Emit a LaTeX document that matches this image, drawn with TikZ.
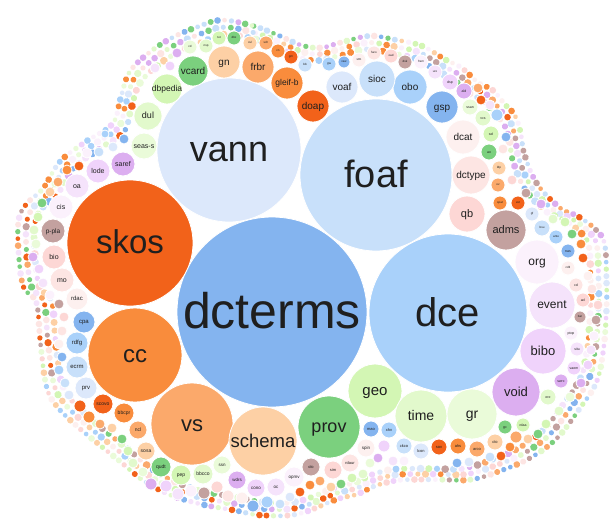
\documentclass[tikz,border=0pt]{standalone}
\usepackage{fontspec}
\setmainfont{Liberation Sans}
\usetikzlibrary{decorations.markings}
% five hues, four shades each
\definecolor{pal0}{HTML}{84B4EF}
\definecolor{pal1}{HTML}{A9D1FA}
\definecolor{pal2}{HTML}{C8E0FA}
\definecolor{pal3}{HTML}{DCE8FB}
\definecolor{pal4}{HTML}{F2621A}
\definecolor{pal5}{HTML}{F98C3C}
\definecolor{pal6}{HTML}{FBA96B}
\definecolor{pal7}{HTML}{FDD0A5}
\definecolor{pal8}{HTML}{7BD07E}
\definecolor{pal9}{HTML}{D3F6B4}
\definecolor{pal10}{HTML}{E2F9CC}
\definecolor{pal11}{HTML}{EAFBD9}
\definecolor{pal12}{HTML}{DCAEF0}
\definecolor{pal13}{HTML}{F0D3FB}
\definecolor{pal14}{HTML}{F5E3FB}
\definecolor{pal15}{HTML}{FBF1FC}
\definecolor{pal16}{HTML}{C3A19F}
\definecolor{pal17}{HTML}{FDD7D5}
\definecolor{pal18}{HTML}{FDE5E3}
\definecolor{pal19}{HTML}{FDF0EF}
\begin{document}
\begin{tikzpicture}[x=1pt,y=-1pt,
  bubble/.style={fill=pal#1, draw=white, line width=0.8pt},
  tag/.style={font=\fontsize{#1}{#1}\selectfont, text=black!88, inner sep=0pt, anchor=base}]
\useasboundingbox (0,0) rectangle (611,523);
\fill[white] (0,0) rectangle (611,523);

% rim of tiny bubbles, rows following the outline of the pack
\foreach \s/\st/\rr/\off in {0.988/7/3/0, 0.961/7.6/3.3/7, 0.934/8.2/3.5/13}{
  \path[scale around={\s:(315,280)}, decorate, decoration={markings,
    mark=between positions 0 and 1 step \st pt with {
      \pgfmathtruncatemacro{\nn}{\pgfkeysvalueof{/pgf/decoration/mark info/sequence number}}
      \pgfmathtruncatemacro{\mm}{mod(\nn,23)}
      \pgfmathtruncatemacro{\q}{mod(\mm*\mm*3+\mm*5+floor(\nn/23)*7+\off,20)}
      \pgfmathsetmacro{\dr}{\rr*(0.78+0.11*mod(\mm*5+\off,4))}
      \fill[pal\q] (0,0) circle (\dr pt);
    }}]
    plot[smooth cycle, tension=0.6] coordinates {
      (220,17) (253,23) (277,32) (300,42) (320,45) (340,40) (370,33) (397,37)
      (423,43) (447,57) (463,65) (480,80) (495,88) (507,102) (517,113) (523,130)
      (527,153) (540,183) (563,207) (580,215) (597,227) (608,243) (610,280)
      (610,310) (607,350) (600,383) (583,410) (560,440) (533,460) (503,473)
      (473,482) (440,482) (413,482) (397,483) (377,488) (357,497) (337,502)
      (297,517) (260,518) (233,513) (200,507) (167,497) (140,482) (117,463)
      (97,447) (73,427) (53,407) (43,387) (37,343) (33,303) (20,287) (15,253)
      (15,220) (23,203) (40,187) (57,160) (83,140) (110,122) (118,97) (127,70)
      (147,50) (170,35) (193,25)};
}

% labelled bubbles: x / y / radius / shade / label / font size
\foreach \x/\y/\r/\c/\t/\f [count=\k] in {
  272/312/95/0/dcterms/50, 448/313/79/1/dce/40, 376/175/76/2/foaf/38,
  229/150/72/3/vann/36, 130/243/63/4/skos/33, 135/355/47/5/cc/24,
  192/424/41/6/vs/22, 263/441/34/7/schema/18.5, 329/427/31/8/prov/18,
  375/391/27/9/geo/15, 421/416/26/10/time/14, 472/414/25/11/gr/14,
  516/392/24/12/void/13, 543/351/23/13/bibo/13, 552/305/23/14/event/12,
  537/262/22/15/org/12, 506/230/20/16/adms/11, 467/214/18/17/qb/11,
  471/175/19/18/dctype/10, 463/137/17/19/dcat/10, 442/107/16/0/gsp/10,
  410/87/17/1/obo/10, 377/79/18/2/sioc/10, 342/87/16/3/voaf/10,
  313/106/16/4/doap/10, 287/83/16/5/gleif-b/8.5, 258/67/16/6/frbr/10,
  224/62/16/7/gn/10, 193/71/15/8/vcard/10, 167/89/15/9/dbpedia/8.5,
  148/116/14/10/dul/9, 144/146/13/11/seas-s/7, 123/164/12/12/saref/7,
  98/171/12/13/lode/7, 77/186/12/14/oa/7, 61/207/12/15/cis/7,
  53/231/12/16/p-pla/6.5, 54/257/12/17/bio/7, 62/280/12/18/mo/7,
  77/299/11/19/rdac/6, 84/322/11/0/cpa/6, 77/343/11/1/rdfg/6,
  77/367/11/2/ecrm/6, 86/388/11/3/prv/6, 103/404/10/4/scovo/5,
  124/413/10/5/bbcpr/5, 138/430/9/6/ncl/5, 146/451/9/7/sosa/5,
  161/467/10/8/qudt/5, 181/475/10/9/pep/5, 203/474/10/10/bbcco/5,
  222/465/9/11/ssn/4.5, 237/480/9/12/wdrs/4.5, 256/488/9/13/cono/4.5,
  276/487/9/14/oc/4.5, 294/477/10/15/opmv/4.5, 311/467/9/16/olo/4,
  333/470/9/17/sim/4, 350/463/9/18/rdaur/4, 366/448/9/19/spin/4.5,
  371/429/8/0/mao/4, 389/430/8/1/xhv/4, 404/446/8/2/ckco/4,
  421/451/8/3/lcon/4, 439/447/8/4/sov/4, 458/446/8/5/ahs/4,
  477/449/8/6/arco/4, 495/442/8/7/cto/4, 505/427/7/8/gc/3.5,
  523/425/7/9/rdaa/3.5, 548/397/8/10/ore/3.5, 561/381/7/12/swrc/3.5,
  574/368/7/13/vaem/3.5, 577/349/7/14/situ/3.5, 571/333/7/15/ptop/3.5,
  580/317/6/16/bar/3, 583/300/7/17/acl/3.5, 576/285/7/18/cd/3.5,
  568/268/7/19/cdtl/3, 568/251/7/0/nas/3.5, 556/237/7/1/ante/3,
  542/228/8/2/bsu/3, 532/214/7/3/gf/3, 518/203/7/4/ext/3,
  500/203/7/5/spat/3, 498/185/7/6/ov/3, 499/168/7/7/ldp/3,
  489/152/8/8/ao/3.5, 491/134/8/9/sel/3.5, 483/118/8/10/vcs/3.5,
  470/107/8/11/ssan/3.5, 464/91/8/12/ald/3.5, 450/82/8/13/dsp/3.5,
  435/72/7/14/uro/3, 421/62/7/15/frem/3, 405/62/7/16/dsk/3,
  391/56/7/17/oad/3, 374/53/7/18/faco/3, 359/60/7/19/stm/3,
  344/62/6/0/vsw/3, 329/64/7/1/gw/3, 305/65/7/2/bb/3,
  291/57/7/4/gm/3, 278/51/7/5/cn/3, 266/43/7/6/sch/3,
  250/43/7/7/cul/3, 234/38/7/8/dbx/3, 219/38/7/9/tut/3,
  206/46/7/10/nsp/3, 190/47/7/11/cd/3, 177/53/5/12//3,
  170/66/5/13//3, 155/68/5/14//3,
  87/153/5/15//3, 79/166/5/4//3, 67/170/5/5//3, 58/182/5/6//3,
  50/192/5/7//3, 42/203/5/8//3, 38/217/5/9//3, 34/230/5/10//3,
  36/244/5/11//3, 33/257/5/12//3, 39/269/5/13//3, 43/283/5/14//3,
  50/295/5/15//3, 59/304/5/16//3, 64/317/5/17//3, 62/331/5/18//3,
  59/344/5/19//3, 62/357/5/0//3, 59/370/5/1//3, 65/383/5/2//3,
  69/395/5/3//3, 80/406/6/4//3, 89/417/6/5//3, 100/424/5/6//3,
  112/428/5/7//3, 122/439/5/8//3, 128/451/5/9//3, 133/463/5/10//3,
  143/472/5/11//3, 151/484/6/12//3, 166/486/6/13//3, 178/494/6/14//3,
  191/491/6/15//3, 204/493/6/16//3, 217/487/6/17//3, 228/496/6/18//3,
  242/498/6/19//3, 253/506/6/0//3, 267/502/6/1//3, 280/504/5/2//3,
  290/497/5/3//3, 300/492/5/4//3, 310/485/5/5//3, 320/481/5/6//3,
  331/487/5/7//3, 341/484/5/8//3, 352/478/5/9//3, 363/474/5/10//3,
  370/463/5/11//3, 378/458/5/12//3, 384/446/6/13//3, 393/461/5/14//3,
  404/461/5/15//3, 490/457/5/2//3, 501/456/5/4//3, 510/447/5/5//3,
  469/462/5/3//3, 457/463/5/0//3, 516/437/6/6//3, 528/439/5/7//3,
  538/434/5/8//3, 546/424/5/9//3, 559/411/5/10//3, 570/397/5/11//3,
  581/383/5/12//3, 588/365/5/13//3, 591/350/5/14//3, 594/336/5/15//3,
  596/320/5/16//3, 598/305/5/17//3, 592/289/5/18//3, 588/276/5/19//3,
  583/258/5/4//3, 581/244/5/5//3, 572/234/5/8//3, 565/222/5/9//3,
  553/219/5/10//3, 541/204/5/12//3, 526/193/5/16//3, 512/180/5/17//3,
  506/137/5/0//3, 503/149/5/18//3, 497/115/6/1//3, 490/105/5/14//3,
  481/100/5/4//3, 478/88/5/6//3, 99/152/5/2//3, 113/147/5/3//3,
  124/139/5/0//3, 105/134/4/1//3}{
  \fill[bubble=\c] (\x,\y) circle (\r pt);
  \node[tag=\f] (b\k) at (\x,{\y+0.33*\f}) {\t};
}
\end{tikzpicture}
\end{document}
